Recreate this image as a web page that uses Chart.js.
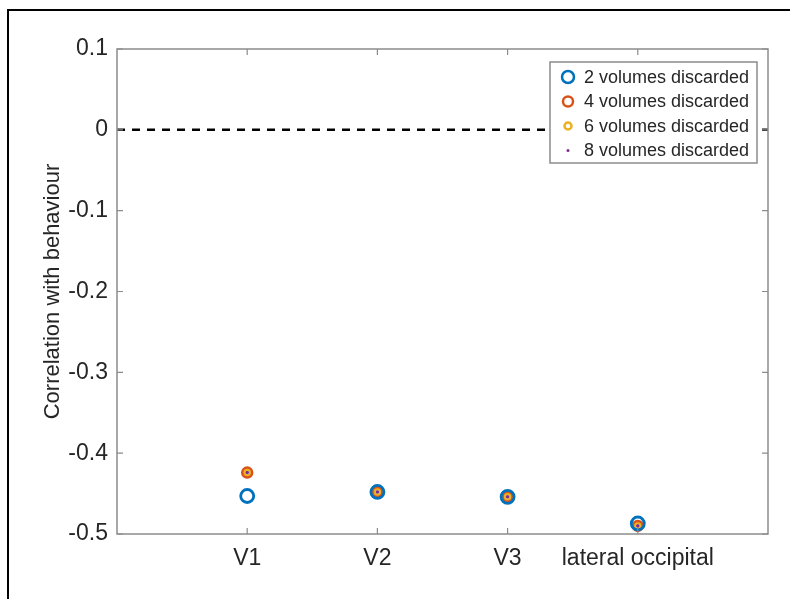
<!DOCTYPE html>
<html>
<head>
<meta charset="utf-8">
<script src="https://cdn.jsdelivr.net/npm/chart.js@4.4.0/dist/chart.umd.min.js"></script>
<style>
  body { margin: 0; background: #fff; }
  #wrap { position: relative; width: 790px; height: 599px; }
</style>
</head>
<body>
<div id="wrap"><canvas id="c" width="790" height="599"></canvas></div>
<script>
  // categories sit at x = 1..4, axis runs 0..5
  const regions = ['V1', 'V2', 'V3', 'lateral occipital'];
  const vol2 = [-0.453, -0.448, -0.454, -0.487];
  const vol4 = [-0.424, -0.448, -0.454, -0.490];
  const vol6 = [-0.424, -0.448, -0.454, -0.490];
  const vol8 = [-0.424, -0.448, -0.454, -0.490];
  const yTicks = [0.1, 0, -0.1, -0.2, -0.3, -0.4, -0.5];

  const FONT = '"Liberation Sans", Arial, Helvetica, sans-serif';
  const AXIS_GREY = '#8c8c8c';

  function pts(arr) {
    return arr.map((v, i) => ({ x: i + 1, y: v }));
  }

  const ctx = document.getElementById('c').getContext('2d');

  // inward ticks, box, outer frame, legend
  const decor = {
    id: 'decor',
    afterDraw(chart) {
      const c = chart.ctx;
      const a = chart.chartArea;
      const xs = chart.scales.x, ys = chart.scales.y;
      c.save();
      c.strokeStyle = AXIS_GREY;
      c.lineWidth = 1.5;
      c.strokeRect(a.left, a.top, a.right - a.left, a.bottom - a.top);
      c.lineWidth = 1.2;
      c.beginPath();
      yTicks.forEach(v => {
        const y = ys.getPixelForValue(v);
        c.moveTo(a.left, y); c.lineTo(a.left + 6, y);
        c.moveTo(a.right, y); c.lineTo(a.right - 6, y);
      });
      regions.forEach((r, i) => {
        const x = xs.getPixelForValue(i + 1);
        c.moveTo(x, a.bottom); c.lineTo(x, a.bottom - 6);
        c.moveTo(x, a.top); c.lineTo(x, a.top + 6);
      });
      c.stroke();

      // outer frame
      c.strokeStyle = '#000';
      c.lineWidth = 2;
      c.beginPath();
      c.moveTo(8, 599); c.lineTo(8, 10); c.lineTo(790, 10);
      c.stroke();

      // legend
      const lx = 550, ly = 62, lw = 207, lh = 101;
      c.fillStyle = '#fff';
      c.fillRect(lx, ly, lw, lh);
      c.strokeStyle = AXIS_GREY;
      c.lineWidth = 1.5;
      c.strokeRect(lx, ly, lw, lh);
      c.font = '18px ' + FONT;
      c.textBaseline = 'middle';
      const legendR = [6, 5, 3.5, 1.5];
      const sets = chart.data.datasets.filter(d => !d.isRef);
      sets.forEach((d, i) => {
        const y = ly + 15 + i * 24.5;
        const mx = lx + 18;
        c.beginPath();
        c.arc(mx, y, legendR[i], 0, Math.PI * 2);
        if (d.pointBackgroundColor !== 'transparent') {
          c.fillStyle = d.pointBackgroundColor;
          c.fill();
        } else {
          c.strokeStyle = d.borderColor;
          c.lineWidth = 2.5;
          c.stroke();
        }
        c.fillStyle = '#262626';
        c.fillText(d.label, lx + 34, y + 1);
      });
      c.restore();
    }
  };

  const chart = new Chart(ctx, {
    type: 'scatter',
    data: {
      datasets: [
        { label: 'zero', isRef: true, type: 'line', data: [{ x: 0, y: 0 }, { x: 5, y: 0 }],
          borderColor: '#000', borderWidth: 2.5, borderDash: [8, 7], pointRadius: 0 },
        { label: '2 volumes discarded', data: pts(vol2), borderColor: '#0072BD',
          pointBackgroundColor: 'transparent', backgroundColor: 'transparent', pointRadius: 6.5, pointBorderWidth: 2.8 },
        { label: '4 volumes discarded', data: pts(vol4), borderColor: '#D95319',
          pointBackgroundColor: 'transparent', backgroundColor: 'transparent', pointRadius: 5, pointBorderWidth: 2.5 },
        { label: '6 volumes discarded', data: pts(vol6), borderColor: '#EDB120',
          pointBackgroundColor: 'transparent', backgroundColor: 'transparent', pointRadius: 3.2, pointBorderWidth: 2.6 },
        { label: '8 volumes discarded', data: pts(vol8), borderColor: '#7E2F8E',
          pointBackgroundColor: '#7E2F8E', backgroundColor: '#7E2F8E', pointRadius: 1.8, pointBorderWidth: 0.5 }
      ]
    },
    options: {
      responsive: false,
      animation: false,
      layout: { padding: { left: 0, top: 49, right: 22, bottom: 0 } },
      plugins: { legend: { display: false }, tooltip: { enabled: false } },
      scales: {
        x: {
          type: 'linear', min: 0, max: 5,
          grid: { display: false }, border: { display: false },
          afterBuildTicks: (s) => { s.ticks = regions.map((r, i) => ({ value: i + 1 })); },
          afterFit: (s) => { s.height = 65; },
          ticks: {
            autoSkip: false, maxRotation: 0, padding: 3,
            color: '#262626', font: { family: FONT, size: 23 },
            callback: (v) => regions[v - 1]
          }
        },
        y: {
          min: -0.5, max: 0.1,
          grid: { display: false }, border: { display: false },
          afterBuildTicks: (s) => { s.ticks = yTicks.map(v => ({ value: v })); },
          afterFit: (s) => { s.width = 117; },
          ticks: {
            padding: 1, color: '#262626', font: { family: FONT, size: 23 },
            callback: (v) => Math.abs(v) < 1e-9 ? '0' : v.toFixed(1)
          },
          title: {
            display: true, text: 'Correlation with behaviour',
            color: '#262626', font: { family: FONT, size: 22 },
            padding: { top: 40, bottom: 0 }
          }
        }
      }
    },
    plugins: [decor]
  });
</script>
</body>
</html>
